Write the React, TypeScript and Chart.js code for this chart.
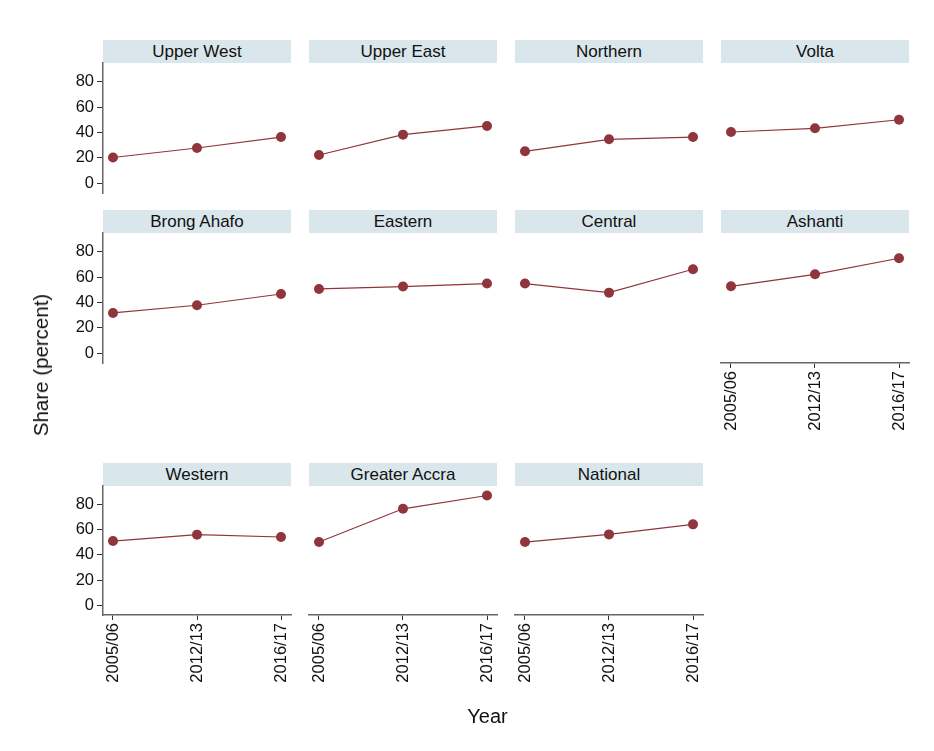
import React, { useEffect, useRef } from "react";
import { Chart, registerables } from "chart.js";

Chart.register(...registerables);

// ---- data ----
const regionNames = [
  "Upper West", "Upper East", "Northern", "Volta",
  "Brong Ahafo", "Eastern", "Central", "Ashanti",
  "Western", "Greater Accra", "National",
];
const yearLabels = ["2005/06", "2012/13", "2016/17"];
const yTickValues = [0, 20, 40, 60, 80];

const upperWest = [20.2, 27.7, 36.4];
const upperEast = [22.2, 38.3, 45.2];
const northern = [25.1, 34.6, 36.4];
const volta = [40.4, 43.3, 50.1];
const brongAhafo = [31.7, 37.8, 46.7];
const eastern = [50.7, 52.6, 55.0];
const central = [55.0, 47.8, 66.3];
const ashanti = [52.8, 62.3, 75.0];
const western = [51.1, 56.2, 54.3];
const greaterAccra = [50.3, 76.8, 87.4];
const national = [50.3, 56.4, 64.4];

const seriesList = [
  upperWest, upperEast, northern, volta,
  brongAhafo, eastern, central, ashanti,
  western, greaterAccra, national,
];

// ---- layout / style ----
const FONT = "'Liberation Sans', Arial, Helvetica, sans-serif";
const RED = "#90353b";
const STRIP = "#d9e6eb";
const COL_LEFT = [103, 309, 515, 721];
const ROW_TOP = [63, 233, 486];
const ROW_H = [130, 130, 129];
const HEADER_TOP = [40, 210, 463];
const HEADER_H = 23;
const PLOT_W = 188;
const YW = 40;
const XH = 80;
const M = 14;

type PanelProps = {
  title: string;
  values: number[];
  row: number;
  col: number;
  showX: boolean;
  showY: boolean;
};

function Panel({ title, values, row, col, showX, showY }: PanelProps) {
  const ref = useRef<HTMLCanvasElement>(null);
  const plotLeft = COL_LEFT[col];
  const plotTop = ROW_TOP[row];
  const plotH = ROW_H[row];
  const cLeft = plotLeft - (showY ? YW : 0) - M;
  const cTop = plotTop - M;
  const cW = PLOT_W + (showY ? YW : 0) + 2 * M;
  const cH = plotH + (showX ? XH : 0) + 2 * M;

  useEffect(() => {
    if (!ref.current) return;
    Chart.defaults.font.family = FONT;
    const chart = new Chart(ref.current, {
      type: "line",
      data: {
        datasets: [
          {
            data: values.map((v, i) => ({ x: i, y: v })),
            borderColor: RED,
            backgroundColor: RED,
            borderWidth: 1.2,
            pointRadius: 5,
            pointHoverRadius: 5,
            pointBackgroundColor: RED,
            pointBorderWidth: 0,
            fill: false,
            tension: 0,
          },
        ],
      },
      options: {
        responsive: false,
        animation: false,
        events: [],
        layout: { padding: M },
        plugins: {
          legend: { display: false },
          tooltip: { enabled: false },
          title: { display: false },
        },
        scales: {
          x: {
            type: "linear",
            min: -0.119,
            max: 2.119,
            display: showX,
            afterBuildTicks: (s: any) => {
              s.ticks = yearLabels.map((_, i) => ({ value: i }));
            },
            afterFit: (s: any) => {
              s.height = showX ? XH : 0;
            },
            ticks: {
              autoSkip: false,
              maxRotation: 90,
              minRotation: 90,
              padding: 3,
              color: "#111",
              font: { size: 16.5, family: FONT },
              callback: (v: any) => yearLabels[v] ?? "",
            },
            grid: {
              display: true,
              drawOnChartArea: false,
              drawTicks: true,
              tickLength: 5,
              color: "#333",
              lineWidth: 1,
            },
            border: { display: true, color: "#666", width: 1.5 },
          },
          y: {
            type: "linear",
            min: -7.9,
            max: 95,
            display: showY,
            afterBuildTicks: (s: any) => {
              s.ticks = yTickValues.map((v) => ({ value: v }));
            },
            afterFit: (s: any) => {
              s.width = showY ? YW : 0;
            },
            ticks: {
              padding: 3,
              color: "#111",
              font: { size: 16.5, family: FONT },
              callback: (v: any) => String(v),
            },
            grid: {
              display: true,
              drawOnChartArea: false,
              drawTicks: true,
              tickLength: 6,
              color: "#333",
              lineWidth: 1,
            },
            border: { display: true, color: "#666", width: 1.5 },
          },
        },
      } as any,
    });
    return () => chart.destroy();
  }, []);

  return (
    <>
      <div
        style={{
          position: "absolute",
          left: plotLeft,
          top: HEADER_TOP[row],
          width: PLOT_W,
          height: HEADER_H,
          background: STRIP,
          color: "#111",
          fontFamily: FONT,
          fontSize: 17,
          lineHeight: `${HEADER_H}px`,
          textAlign: "center",
          whiteSpace: "nowrap",
        }}
      >
        {title}
      </div>
      <canvas
        ref={ref}
        width={cW}
        height={cH}
        style={{
          position: "absolute",
          left: cLeft,
          top: cTop,
          width: cW,
          height: cH,
        }}
      />
    </>
  );
}

export default function App() {
  return (
    <div
      style={{
        position: "absolute",
        left: 0,
        top: 0,
        width: 934,
        height: 751,
        background: "#fff",
        overflow: "hidden",
      }}
    >
      {regionNames.map((name, i) => {
        const row = Math.floor(i / 4);
        const col = i % 4;
        const showY = col === 0;
        const showX = row === 2 || (row === 1 && col === 3);
        return (
          <Panel
            key={name}
            title={name}
            values={seriesList[i]}
            row={row}
            col={col}
            showX={showX}
            showY={showY}
          />
        );
      })}
      <div
        style={{
          position: "absolute",
          left: 41,
          top: 365,
          transform: "translate(-50%, -50%) rotate(-90deg)",
          fontFamily: FONT,
          fontSize: 20.5,
          color: "#111",
          whiteSpace: "nowrap",
        }}
      >
        Share (percent)
      </div>
      <div
        style={{
          position: "absolute",
          left: 487.5,
          top: 716,
          transform: "translate(-50%, -50%)",
          fontFamily: FONT,
          fontSize: 20,
          color: "#111",
          whiteSpace: "nowrap",
        }}
      >
        Year
      </div>
    </div>
  );
}
